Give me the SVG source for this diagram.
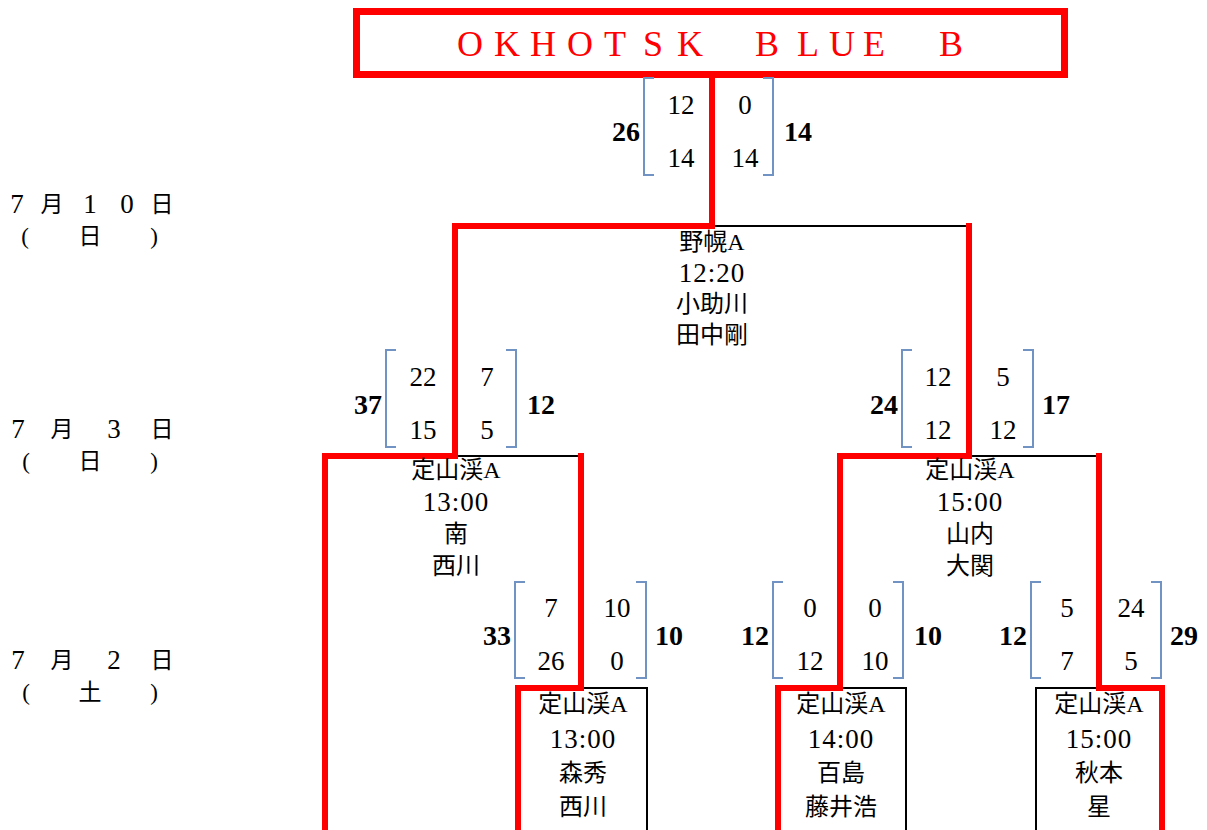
<svg xmlns="http://www.w3.org/2000/svg" width="1207" height="830" viewBox="0 0 1207 830">
<style>
.red{fill:none;stroke:#ff0000;stroke-width:6;stroke-linecap:square;stroke-linejoin:miter}
.blk{fill:none;stroke:#000;stroke-width:2}
.brk{fill:none;stroke:#7093c4;stroke-width:2}
text{font-family:"Liberation Serif","Noto Sans CJK JP",serif;fill:#000;dominant-baseline:central}
.m{font-size:24px;text-anchor:middle}
.tm{font-size:27px;text-anchor:middle;letter-spacing:1px}
.n{font-size:27px;text-anchor:middle}
.b{font-size:28px;font-weight:bold;text-anchor:middle}
.d{font-size:23px;text-anchor:middle}
.dn{font-size:27px}
.t{font-size:36px;fill:#ff0000}
</style>
<rect width="1207" height="830" fill="#fff"/>

<g id="connectors">
  <path class="blk" d="M712,226 H969"/>
  <path class="blk" d="M455,456 H581"/>
  <path class="blk" d="M969,456 H1099"/>
  <path class="blk" d="M581,688 H647 V830"/>
  <path class="blk" d="M840,688 H906 V830"/>
  <path class="blk" d="M1036,830 V688 H1099"/>
  <path class="red" d="M712,78 V226 H455 V456 H325 V833"/>
  <path class="red" d="M969,226 V456 H840 V688 H778 V833"/>
  <path class="red" d="M581,456 V688 H518 V833"/>
  <path class="red" d="M1099,456 V688 H1162 V833"/>
</g>

<g id="title">
  <rect x="356.5" y="11.5" width="708" height="63" fill="#fff" stroke="#ff0000" stroke-width="7"/>
  <text class="t" x="457 494 530 567 604 643 677 755 797 829 863 939" y="44">OKHOTSKBLUEB</text>
</g>

<g id="dates">
  <text class="d" y="204"><tspan class="dn" x="17">7</tspan><tspan x="52">月</tspan><tspan class="dn" x="90">1</tspan><tspan class="dn" x="127">0</tspan><tspan x="162">日</tspan></text>
  <text class="d" x="25 90 154" y="236">(日)</text>
  <text class="d" y="429"><tspan class="dn" x="18">7</tspan><tspan x="62">月</tspan><tspan class="dn" x="114">3</tspan><tspan x="162">日</tspan></text>
  <text class="d" x="26 90 154" y="461">(日)</text>
  <text class="d" y="660"><tspan class="dn" x="18">7</tspan><tspan x="62">月</tspan><tspan class="dn" x="114">2</tspan><tspan x="162">日</tspan></text>
  <text class="d" x="26 90 154" y="692">(土)</text>
</g>

<g id="match-final">
  <text class="m" x="712" y="242">野幌A</text>
  <text class="tm" x="712" y="273">12:20</text>
  <text class="m" x="712" y="304">小助川</text>
  <text class="m" x="712" y="335">田中剛</text>
</g>
<g id="score-final">
  <path class="brk" d="M654,78 H644 V175 H654"/>
  <path class="brk" d="M763,78 H773 V175 H763"/>
  <text class="n" x="681" y="105">12</text>
  <text class="n" x="681" y="158">14</text>
  <text class="n" x="745" y="105">0</text>
  <text class="n" x="745" y="158">14</text>
  <text class="b" x="626" y="131">26</text>
  <text class="b" x="798" y="131">14</text>
</g>

<g id="match-semi-left">
  <text class="m" x="456" y="470">定山渓A</text>
  <text class="tm" x="456" y="502">13:00</text>
  <text class="m" x="456" y="534">南</text>
  <text class="m" x="456" y="566">西川</text>
</g>
<g id="score-semi-left">
  <path class="brk" d="M396,350 H386 V447 H396"/>
  <path class="brk" d="M506,350 H516 V447 H506"/>
  <text class="n" x="423" y="377">22</text>
  <text class="n" x="423" y="430">15</text>
  <text class="n" x="487" y="377">7</text>
  <text class="n" x="487" y="430">5</text>
  <text class="b" x="368" y="404">37</text>
  <text class="b" x="541" y="404">12</text>
</g>

<g id="match-semi-right">
  <text class="m" x="970" y="470">定山渓A</text>
  <text class="tm" x="970" y="502">15:00</text>
  <text class="m" x="970" y="534">山内</text>
  <text class="m" x="970" y="566">大関</text>
</g>
<g id="score-semi-right">
  <path class="brk" d="M912,350 H902 V447 H912"/>
  <path class="brk" d="M1023,350 H1033 V447 H1023"/>
  <text class="n" x="938" y="377">12</text>
  <text class="n" x="938" y="430">12</text>
  <text class="n" x="1003" y="377">5</text>
  <text class="n" x="1003" y="430">12</text>
  <text class="b" x="884" y="404">24</text>
  <text class="b" x="1056" y="404">17</text>
</g>

<g id="match-r1-left">
  <text class="m" x="583" y="704">定山渓A</text>
  <text class="tm" x="583" y="739">13:00</text>
  <text class="m" x="583" y="773">森秀</text>
  <text class="m" x="583" y="807">西川</text>
</g>
<g id="score-r1-left">
  <path class="brk" d="M525,582 H515 V678 H525"/>
  <path class="brk" d="M636,582 H646 V678 H636"/>
  <text class="n" x="551" y="608">7</text>
  <text class="n" x="551" y="661">26</text>
  <text class="n" x="617" y="608">10</text>
  <text class="n" x="617" y="661">0</text>
  <text class="b" x="497" y="635">33</text>
  <text class="b" x="669" y="635">10</text>
</g>

<g id="match-r1-mid">
  <text class="m" x="841" y="704">定山渓A</text>
  <text class="tm" x="841" y="739">14:00</text>
  <text class="m" x="841" y="773">百島</text>
  <text class="m" x="841" y="807">藤井浩</text>
</g>
<g id="score-r1-mid">
  <path class="brk" d="M783,582 H773 V678 H783"/>
  <path class="brk" d="M893,582 H903 V678 H893"/>
  <text class="n" x="810" y="608">0</text>
  <text class="n" x="810" y="661">12</text>
  <text class="n" x="875" y="608">0</text>
  <text class="n" x="875" y="661">10</text>
  <text class="b" x="755" y="635">12</text>
  <text class="b" x="928" y="635">10</text>
</g>

<g id="match-r1-right">
  <text class="m" x="1099" y="704">定山渓A</text>
  <text class="tm" x="1099" y="739">15:00</text>
  <text class="m" x="1099" y="773">秋本</text>
  <text class="m" x="1099" y="807">星</text>
</g>
<g id="score-r1-right">
  <path class="brk" d="M1041,582 H1031 V678 H1041"/>
  <path class="brk" d="M1151,582 H1161 V678 H1151"/>
  <text class="n" x="1067" y="608">5</text>
  <text class="n" x="1067" y="661">7</text>
  <text class="n" x="1131" y="608">24</text>
  <text class="n" x="1131" y="661">5</text>
  <text class="b" x="1013" y="635">12</text>
  <text class="b" x="1184" y="635">29</text>
</g>
</svg>
